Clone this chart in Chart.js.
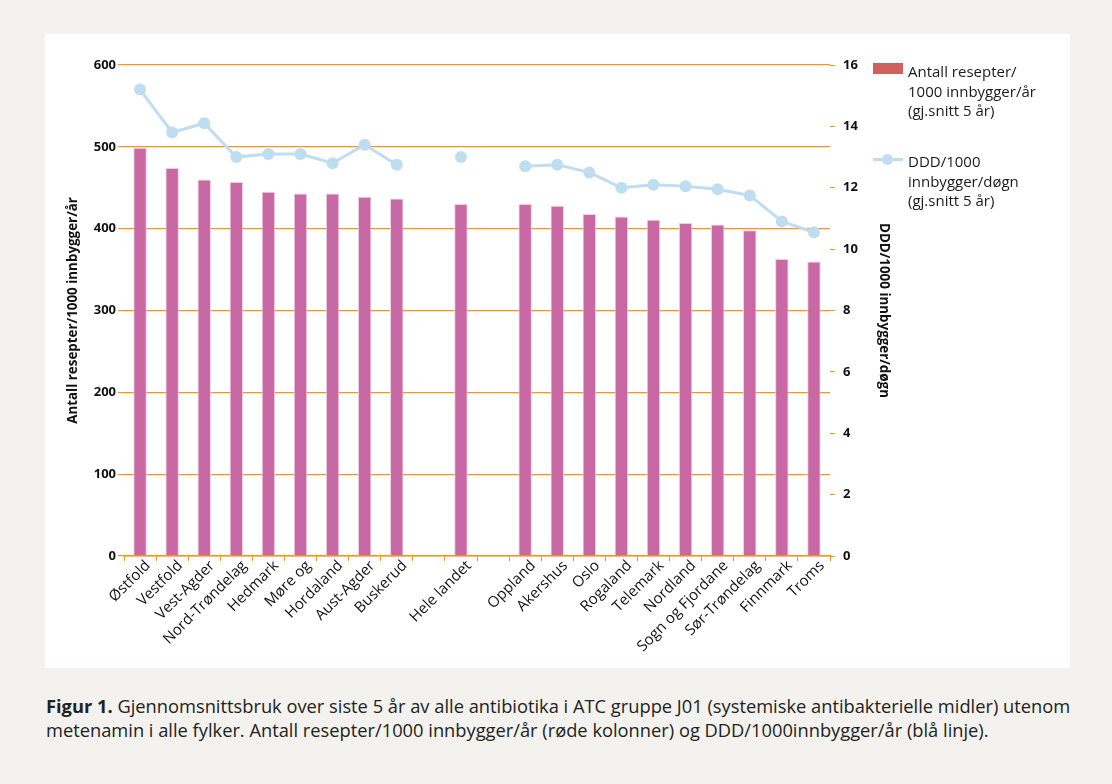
<!DOCTYPE html>
<html>
<head>
<meta charset="utf-8">
<script src="https://cdn.jsdelivr.net/npm/chart.js@4/dist/chart.umd.min.js"></script>
<style>
  body { margin: 0; background: #f3f2ee; font-family: "Open Sans", sans-serif; width: 1112px; height: 784px; position: relative; overflow: hidden; }
  #panel { position: absolute; left: 45px; top: 34px; width: 1025px; height: 634px; background: #fff; }
  #chart { position: absolute; left: 0; top: 0; }
  .leg { position: absolute; left: 863px; font-size: 15px; line-height: 19.5px; color: #1a1a1a; }
  .sw { position: absolute; }
  #caption { position: absolute; left: 46px; top: 694px; font-size: 18.3px; line-height: 24px; color: #222; white-space: nowrap; }
</style>
</head>
<body>
<div id="panel">
  <canvas id="chart" width="1025" height="634"></canvas>
  <div class="sw" style="left:828px; top:29px; width:30px; height:11px; background:#cd625e;"></div>
  <div class="leg" style="top:28px;">Antall resepter/<br>1000 innbygger/år<br>(gj.snitt 5 år)</div>
  <div class="sw" style="left:828px; top:124px; width:30px; height:3px; background:#bfddf1;"></div>
  <div class="sw" style="left:837px; top:120px; width:11px; height:11px; border-radius:50%; background:#bfddf1;"></div>
  <div class="leg" style="top:118px;">DDD/1000<br>innbygger/døgn<br>(gj.snitt 5 år)</div>
</div>
<div id="caption"><b>Figur 1.</b> Gjennomsnittsbruk over siste 5 år av alle antibiotika i ATC gruppe J01 (systemiske antibakterielle midler) utenom<br>metenamin i alle fylker. Antall resepter/1000 innbygger/år (røde kolonner) og DDD/1000innbygger/år (blå linje).</div>
<script>
// fylker, tomme plasser rundt "Hele landet"
const fylker = ['Østfold', 'Vestfold', 'Vest-Agder', 'Nord-Trøndelag', 'Hedmark', 'Møre og', 'Hordaland', 'Aust-Agder', 'Buskerud',
  '', 'Hele landet', '',
  'Oppland', 'Akershus', 'Oslo', 'Rogaland', 'Telemark', 'Nordland', 'Sogn og Fjordane', 'Sør-Trøndelag', 'Finnmark', 'Troms'];

// resepter per 1000 innbygger per år
const resepter = [499, 474, 460, 457, 445, 443, 443, 439, 437,
  null, 430, null,
  430, 428, 418, 415, 411, 407, 405, 398, 363, 360];

// DDD per 1000 innbygger per døgn
const ddd = [15.2, 13.8, 14.1, 13.0, 13.1, 13.1, 12.8, 13.4, 12.75,
  null, 13.0, null,
  12.7, 12.75, 12.5, 12.0, 12.1, 12.05, 11.95, 11.75, 10.9, 10.55];

const venstreTicks = [0, 100, 200, 300, 400, 500, 600];
const hoyreTicks = [0, 2, 4, 6, 8, 10, 12, 14, 16];

const orange = '#f7941d';
const tickFont = { family: 'Open Sans', size: 13, weight: 'bold' };
const titleFont = { family: 'Open Sans', size: 13.4, weight: 'bold' };

let ctx = document.getElementById('chart').getContext('2d');
let chart = new Chart(ctx, {
  data: {
    labels: fylker,
    datasets: [
      {
        type: 'line',
        label: 'DDD/1000 innbygger/døgn',
        data: ddd,
        yAxisID: 'y1',
        borderColor: '#bfddf1',
        backgroundColor: '#bfddf1',
        borderWidth: 3,
        pointRadius: 6,
        pointBackgroundColor: '#bfddf1',
        pointBorderWidth: 0,
        spanGaps: false,
        order: 0
      },
      {
        type: 'bar',
        label: 'Antall resepter/1000 innbygger/år',
        data: resepter,
        yAxisID: 'y',
        backgroundColor: '#c869a4',
        borderColor: '#ecd0e2',
        borderWidth: 1,
        barPercentage: 0.42,
        categoryPercentage: 1,
        order: 1
      }
    ]
  },
  options: {
    responsive: false,
    animation: false,
    layout: { padding: { left: 0, right: 176, top: 31, bottom: 0 } },
    plugins: { legend: { display: false }, tooltip: { enabled: false } },
    scales: {
      x: {
        offset: true,
        grid: { drawOnChartArea: false, color: orange, tickLength: 5, offset: true },
        border: { display: true, color: orange, width: 1.5 },
        ticks: { autoSkip: false, maxRotation: 45, minRotation: 45, padding: -4, labelOffset: 8, color: '#111', font: { family: 'Open Sans', size: 15 } },
        afterFit: (scale) => { scale.height = 112; }
      },
      y: {
        position: 'left',
        min: 0, max: 600,
        afterBuildTicks: (scale) => { scale.ticks = venstreTicks.map(v => ({ value: v })); },
        grid: { color: orange, lineWidth: 1.2, tickLength: 6 },
        border: { display: false },
        ticks: { color: '#111', font: tickFont, padding: 2 },
        title: { display: true, text: 'Antall resepter/1000 innbygger/år', color: '#111', font: titleFont, padding: { top: 20, bottom: 0 } },
        afterFit: (scale) => { scale.width = 79; }
      },
      y1: {
        position: 'right',
        min: 0, max: 16,
        afterBuildTicks: (scale) => { scale.ticks = hoyreTicks.map(v => ({ value: v })); },
        grid: { drawOnChartArea: false, color: orange, tickLength: 5 },
        border: { display: false },
        ticks: { color: '#111', font: tickFont, padding: 8 },
        title: { display: true, text: 'DDD/1000 innbygger/døgn', color: '#111', font: titleFont, padding: { top: 2, bottom: 0 } },
        afterFit: (scale) => { scale.width = 64; }
      }
    }
  }
});
</script>
</body>
</html>
